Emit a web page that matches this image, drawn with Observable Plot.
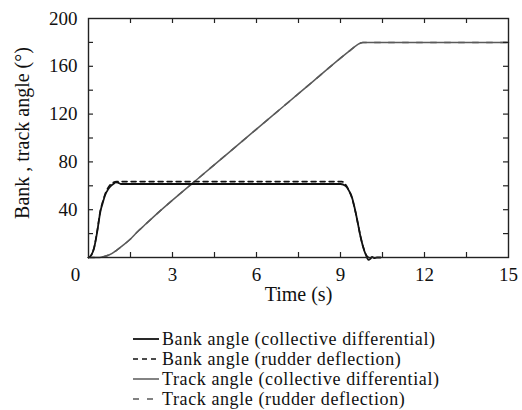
<!DOCTYPE html>
<html>
<head>
<meta charset="utf-8">
<script src="https://cdn.jsdelivr.net/npm/d3@7"></script>
<script src="https://cdn.jsdelivr.net/npm/@observablehq/plot@0.6"></script>
<style>
  body { margin: 0; background: #fff; font-family: "Liberation Serif", "Times New Roman", serif; }
  #legend { margin: 4px 0 0 133px; font-size: 18px; letter-spacing: 0.6px; line-height: 20px; color: #111; }
  #legend .row { display: flex; align-items: center; white-space: nowrap; height: 20px; }
  #legend svg { margin-right: 3px; flex: none; }
</style>
</head>
<body>
<div id="chart"></div>
<div id="legend"></div>
<script>
// Bank angle (collective differential)
const bankCDTime  = [0, 0.1, 0.2, 0.3, 0.43, 0.5, 0.6, 0.7, 0.8, 0.9, 0.97, 1.05, 1.15, 1.3, 9.0, 9.1, 9.2, 9.3, 9.4, 9.5, 9.6, 9.7, 9.8, 9.9, 10.0, 10.07, 10.13, 10.2, 10.3, 10.43];
const bankCDValue = [0, 2, 8, 20, 39, 45, 52.5, 57, 60, 61.8, 62.8, 62.6, 61.5, 61.5, 61.5, 61, 59.5, 56, 51, 42, 31, 19, 9.5, 2.5, -2, -1, 0.5, -0.5, 0, 0];
// Bank angle (rudder deflection)
const bankRDTime  = [0, 0.1, 0.2, 0.3, 0.43, 0.5, 0.6, 0.7, 0.8, 0.9, 1.0, 1.1, 9.05, 9.15, 9.25, 9.35, 9.45, 9.55, 9.65, 9.75, 9.85, 9.95, 10.0];
const bankRDValue = [0, 2, 8.2, 20.5, 40, 46, 53.5, 58.5, 61.5, 63, 63.5, 63.5, 63.5, 62, 58.5, 53.5, 46.5, 36.5, 25, 14, 6, 1, 0];
// Track angle (collective differential)
const trackCDTime  = [0, 0.3, 0.5, 0.75, 1.0, 1.25, 1.5, 1.75, 2.0, 2.5, 3, 4, 5, 6, 7, 8, 9, 9.3, 9.5, 9.65, 9.8, 15];
const trackCDValue = [0, 0, 0.5, 2.3, 6, 10.5, 15.5, 21.5, 27, 37.8, 48, 67.8, 87.6, 107.4, 127.2, 147, 166.8, 172.5, 176.3, 178.7, 180, 180];
// Track angle (rudder deflection)
const trackRDTime  = [0, 0.3, 0.5, 0.75, 1.0, 1.25, 1.5, 1.75, 2.0, 2.5, 3, 4, 5, 6, 7, 8, 9, 9.3, 9.5, 9.65, 9.8, 15];
const trackRDValue = [0, 0, 0.5, 2.3, 6, 10.5, 15.5, 21.5, 27, 37.8, 48, 67.8, 87.6, 107.4, 127.2, 147, 166.8, 172.5, 176.3, 178.7, 180, 180];

const xTickLabels = [3, 6, 9, 12, 15];
const xZeroLabel = [0];
const yTickLabels = [40, 80, 120, 160, 200];
const xMinorTicks = [1.5, 3, 4.5, 6, 7.5, 9, 10.5, 12, 13.5];
const yMinorTicks = [20, 40, 60, 80, 100, 120, 140, 160, 180];

const seriesNames = [
  "Bank angle (collective differential)",
  "Bank angle (rudder deflection)",
  "Track angle (collective differential)",
  "Track angle (rudder deflection)"
];
const seriesColors = ["#111", "#111", "#5a5a5a", "#5a5a5a"];
const seriesDash = [null, "5,4", null, "6,8"];
const seriesWidth = [1.8, 1.6, 1.5, 1.5];

const toRows = (ts, vs) => ts.map((t, i) => ({t, v: vs[i]}));
const bankCD = toRows(bankCDTime, bankCDValue);
const bankRD = toRows(bankRDTime, bankRDValue);
const trackCD = toRows(trackCDTime, trackCDValue);
const trackRD = toRows(trackRDTime, trackRDValue);

const W = 522, H = 325, mT = 18, mB = 68, mL = 88, mR = 14, tickLen = 5;
const innerW = W - mL - mR, innerH = H - mT - mB;
const font = "Liberation Serif";
const chart = Plot.plot({
  width: W,
  height: H,
  marginTop: mT,
  marginBottom: mB,
  marginLeft: mL,
  marginRight: mR,
  style: {fontFamily: font, fontSize: "19px", color: "#111", background: "#fff"},
  x: {domain: [0, 15]},
  y: {domain: [0, 200]},
  marks: [
    Plot.line(trackRD, {x: "t", y: "v", stroke: seriesColors[3], strokeWidth: seriesWidth[3], strokeDasharray: seriesDash[3], curve: "monotone-x"}),
    Plot.line(trackCD, {x: "t", y: "v", stroke: seriesColors[2], strokeWidth: seriesWidth[2], curve: "monotone-x"}),
    Plot.line(bankRD, {x: "t", y: "v", stroke: seriesColors[1], strokeWidth: seriesWidth[1], strokeDasharray: seriesDash[1], curve: "monotone-x"}),
    Plot.line(bankCD, {x: "t", y: "v", stroke: seriesColors[0], strokeWidth: seriesWidth[0], curve: "monotone-x"}),
    // inner ticks on all four sides
    Plot.tickX(xMinorTicks, {x: d => d, insetTop: innerH - tickLen, stroke: "#222", strokeWidth: 1.2}),
    Plot.tickX(xMinorTicks, {x: d => d, insetBottom: innerH - tickLen, stroke: "#222", strokeWidth: 1.2}),
    Plot.tickY(yMinorTicks, {y: d => d, insetRight: innerW - tickLen, stroke: "#222", strokeWidth: 1.2}),
    Plot.tickY(yMinorTicks, {y: d => d, insetLeft: innerW - tickLen, stroke: "#222", strokeWidth: 1.2}),
    // labels
    Plot.axisX({anchor: "bottom", ticks: xTickLabels, tickSize: 0, tickPadding: 9.5, fontSize: 19, label: null}),
    Plot.axisX({anchor: "bottom", ticks: xZeroLabel, tickSize: 0, tickPadding: 9.5, dx: -13, fontSize: 19, label: null}),
    Plot.axisY({anchor: "left", ticks: yTickLabels, tickSize: 0, tickPadding: 11, fontSize: 19, label: null}),
    Plot.frame({stroke: "#222", strokeWidth: 1.4}),
    Plot.text(["Time (s)"], {frameAnchor: "bottom", dy: 43.5, fontSize: 20, fill: "#111"}),
    Plot.text(["Bank , track angle (°)"], {frameAnchor: "left", textAnchor: "middle", dx: -66, dy: -5, rotate: -90, fontSize: 20, fill: "#111"})
  ]
});
document.getElementById("chart").appendChild(chart);

// legend
const legend = document.getElementById("legend");
seriesNames.forEach((name, i) => {
  const row = document.createElement("div");
  row.className = "row";
  const sw = d3.create("svg").attr("width", 26).attr("height", 10);
  sw.append("line").attr("x1", 0).attr("x2", 26).attr("y1", 5).attr("y2", 5)
    .attr("stroke", seriesColors[i]).attr("stroke-width", seriesWidth[i])
    .attr("stroke-dasharray", seriesDash[i]);
  row.appendChild(sw.node());
  const span = document.createElement("span");
  span.textContent = name;
  row.appendChild(span);
  legend.appendChild(row);
});
</script>
</body>
</html>
